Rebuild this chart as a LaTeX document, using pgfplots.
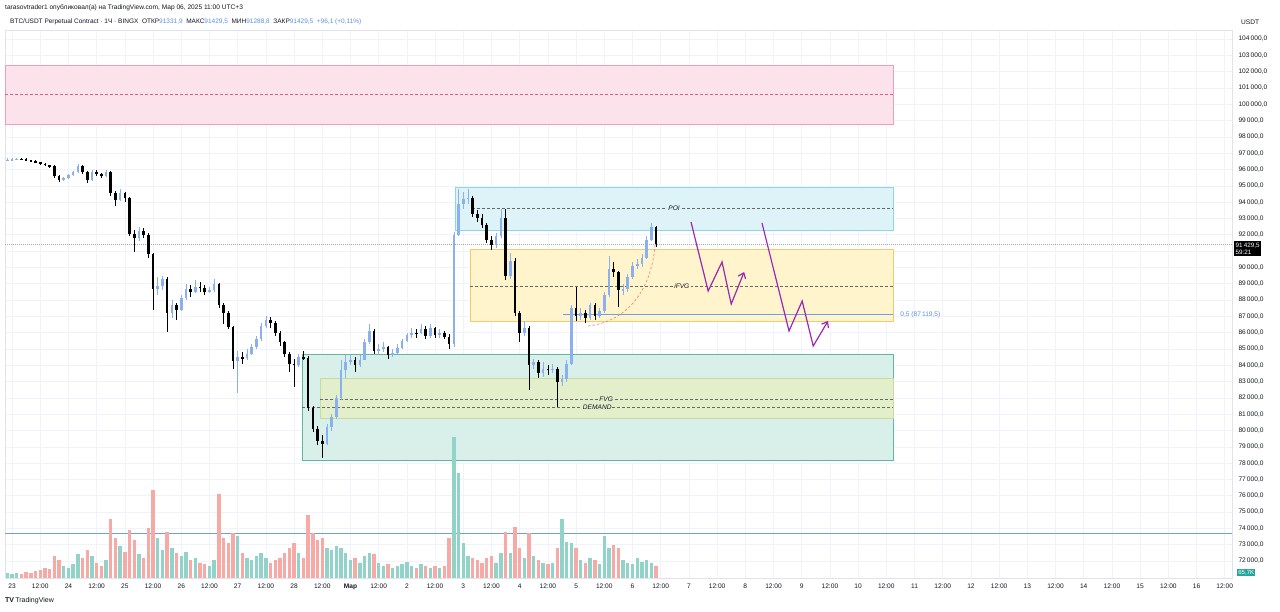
\documentclass[border=0pt]{standalone}
\usepackage{pgfplots}
\pgfplotsset{compat=1.18}
\usepackage{pgfplotstable}
\usepackage{fontspec}
\setmainfont{Liberation Sans}
\usetikzlibrary{arrows.meta}

\definecolor{txt}{HTML}{131722}
\definecolor{gridc}{HTML}{F0F3FA}
\definecolor{linec}{HTML}{E0E3EB}
\definecolor{upc}{HTML}{8AB0F0}
\definecolor{valc}{HTML}{5B8FEA}
\definecolor{volup}{HTML}{92D3C9}
\definecolor{voldn}{HTML}{F7A9A5}
\definecolor{pinkF}{HTML}{FCE2EA}
\definecolor{pinkD}{HTML}{F0A0B4}
\definecolor{poiF}{HTML}{DDF3F8}
\definecolor{poiD}{HTML}{8ED6E4}
\definecolor{yelF}{HTML}{FFF4CC}
\definecolor{yelD}{HTML}{F4CA6E}
\definecolor{demF}{HTML}{D9F0EA}
\definecolor{demD}{HTML}{5DB8A0}
\definecolor{fvgF}{HTML}{E3EECA}
\definecolor{fvgD}{HTML}{C6DB9C}
\definecolor{halfc}{HTML}{6D9EEB}
\definecolor{arrc}{HTML}{9C27B0}
\definecolor{curvc}{HTML}{F08A62}
\definecolor{tagteal}{HTML}{26A69A}

% 2h candles: T = hours since 23 Feb 00:00, v = volume (scaled)
\pgfplotstableread{
T o h l c v
-2 96550 96700 96500 96600 5
0 96600 96700 96520 96610 4
2 96610 96720 96560 96640 5
4 96640 96700 96560 96630 4
6 96630 96680 96500 96560 6
8 96560 96600 96450 96510 5
10 96510 96560 96380 96430 7
12 96430 96480 96300 96350 8
14 96350 96420 96200 96270 10
16 96270 96300 96100 96190 9
18 96190 96250 95500 95600 22
20 95600 95650 95250 95370 18
22 95370 95550 95300 95480 12
24 95480 95700 95420 95650 10
26 95650 95900 95600 95850 14
28 95850 96350 95800 96200 24
30 96200 96250 95750 95830 20
32 95830 95900 95150 95350 28
34 95350 95950 95300 95850 22
36 95850 95950 95600 95700 15
38 95700 95800 95500 95620 12
40 95620 96000 95550 95850 18
42 95850 95900 94400 94550 59
44 94550 94700 93750 94150 40
46 94150 94800 94050 94560 32
48 94560 94650 94000 94250 26
50 94250 94300 91900 92050 48
52 92050 92300 90950 91800 38
54 91800 92500 91600 92250 24
56 92250 92400 91800 91990 20
58 91990 92100 90600 90800 50
60 90800 90900 87400 88700 88
62 88700 89400 88300 88850 40
64 88850 89500 88600 89300 28
66 89300 89400 86040 87200 46
68 87200 88000 86900 87690 30
70 87690 87800 86800 87400 25
72 87400 88300 87300 88100 22
74 88100 89000 88000 88700 26
76 88700 88900 88200 88480 18
78 88480 89200 88400 88800 20
80 88800 89100 88500 88750 15
82 88750 88900 88300 88490 14
84 88490 88800 88400 88610 12
86 88610 89300 88500 89000 18
88 89000 89050 87500 87700 84
90 87700 87800 86500 87200 40
92 87200 87300 86200 86350 35
94 86350 86400 83800 84250 45
96 84250 84900 82300 84500 42
98 84500 84800 84100 84430 25
100 84430 85000 84300 84700 20
102 84700 85300 84600 85120 18
104 85120 85800 85000 85600 22
106 85600 86600 85500 86400 25
108 86400 87000 86300 86800 20
110 86800 86950 86300 86600 15
112 86600 86700 85800 86000 18
114 86000 86100 85200 85400 20
116 85400 85500 84500 84700 25
118 84700 84800 83600 84100 30
120 84100 84400 82670 84000 35
122 84000 84700 83900 84500 25
124 84500 84900 84300 84450 20
126 84450 84550 81200 81400 63
128 81400 81500 79900 80100 45
130 80100 80300 79100 79350 38
132 79350 79700 78310 79200 40
134 79200 80400 79100 80200 30
136 80200 81000 80000 80800 28
138 80800 82200 80700 82000 32
140 82000 84300 81900 83700 30
142 83700 84600 83200 84200 25
144 84200 84700 84000 84300 18
146 84300 84500 83600 84000 20
148 84000 84600 83900 84350 15
150 84350 85600 84300 85400 22
152 85400 86500 85300 86100 25
154 86100 86200 84700 84850 24
156 84850 85300 84600 84990 15
158 84990 85400 84800 85100 12
160 85100 85200 84400 84650 14
162 84650 85000 84500 84780 10
164 84780 85300 84700 85080 12
166 85080 85600 85000 85480 14
168 85480 86000 85400 85850 16
170 85850 86300 85700 86000 12
172 86000 86200 85700 85950 10
174 85950 86500 85900 86200 14
176 86200 86400 85600 85800 12
178 85800 86500 85700 86270 10
180 86270 86350 85700 85850 12
182 85850 86200 85700 85980 10
184 85980 86100 85600 85760 12
186 85760 85900 85000 85300 40
188 85300 92200 85100 92000 141
190 92000 94800 91900 93900 105
192 93900 94600 93600 94200 35
194 94200 94800 93900 94250 22
196 94250 94350 93100 93250 20
198 93250 93500 92800 93050 18
200 93050 93300 92400 92600 15
202 92600 92700 91500 91680 20
204 91680 91900 91070 91350 22
206 91350 92100 91200 91900 15
208 91900 93600 91800 93000 25
210 93000 93600 89200 89500 46
212 89500 90900 89300 90400 25
214 90400 90600 87000 87200 51
216 87200 87300 85400 86000 30
218 86000 86700 85800 86300 20
220 86300 86400 82480 84000 45
222 84000 84400 83800 84200 22
224 84200 84300 83200 83500 18
226 83500 84200 83300 83800 15
228 83800 84000 83400 83700 14
230 83700 84100 83500 83800 15
232 83800 83900 81440 83000 30
234 83000 83400 82700 83150 59
236 83150 84300 83000 84100 36
238 84100 87700 84000 87500 35
240 87500 88800 86700 87000 30
242 87000 87500 86800 87200 18
244 87200 87400 86600 86900 15
246 86900 87800 86800 87690 20
248 87690 87800 86800 87000 18
250 87000 87500 86900 87350 14
252 87350 88500 87200 88300 42
254 88300 90700 88200 89900 30
256 89900 90300 89400 89700 33
258 89700 89800 87570 88600 30
260 88600 89000 88300 88650 18
262 88650 89600 88500 89400 15
264 89400 90300 89300 90100 14
266 90100 90500 89900 90200 20
268 90200 90800 90000 90600 16
270 90600 91900 90500 91700 18
272 91700 92720 91600 92500 15
274 92500 92550 91280 91430 12
}\candles

\pgfplotsset{
  ebar/.style 2 args={draw=none, mark=none, forget plot,
    error bars/y dir=both, error bars/y explicit, error bars/error mark=none,
    error bars/error bar style={line width=#1, draw=#2, solid}},
}

\begin{document}
\begin{tikzpicture}[x=1pt,y=1pt]
\useasboundingbox (0,0) rectangle (1280,611);
\fill[white] (0,0) rectangle (1280,611);
\begin{axis}[
  at={(5pt,33pt)}, anchor=south west,
  scale only axis, width=1227pt, height=548pt,
  xmin=-3, xmax=519.1, ymin=70958, ymax=104552,
  axis line style={draw=linec},
  major tick length=0pt,
  grid=major, grid style={draw=gridc, line width=0.6pt},
  xtick={0,12,...,516},
  xticklabels={23,12:00,24,12:00,25,12:00,26,12:00,27,12:00,28,12:00,{\textbf{Мар}},12:00,2,12:00,3,12:00,4,12:00,5,12:00,6,12:00,7,12:00,8,12:00,9,12:00,10,12:00,11,12:00,12,12:00,13,12:00,14,12:00,15,12:00,16,12:00},
  ytick={72000,73000,74000,75000,76000,77000,78000,79000,80000,81000,82000,83000,84000,85000,86000,87000,88000,89000,90000,92000,93000,94000,95000,96000,97000,98000,99000,100000,101000,102000,103000,104000},
  extra y ticks={91000}, extra y tick labels={},
  yticklabel pos=right,
  scaled y ticks=false,
  tick label style={font=\fontsize{6.6}{7}\selectfont, text=txt},
  xticklabel style={yshift=-2.5pt},
  yticklabel style={anchor=west, xshift=3pt,
    /pgf/number format/.cd, fixed, fixed zerofill, precision=1, use comma, 1000 sep={\,}, assume math mode=true},
  clip=true,
]
% zones
\draw[fill=pinkF, draw=pinkD, line width=0.7pt] (axis cs:-3,102406) rectangle (axis cs:374.9,98788);
\draw[draw=pinkD!60!purple, dash pattern=on 3pt off 2pt, line width=0.5pt] (axis cs:-3,100628) -- (axis cs:374.9,100628);
\draw[fill=poiF, draw=poiD, line width=0.7pt] (axis cs:188.5,94927) rectangle (axis cs:374.9,92291);
\draw[fill=yelF, draw=yelD, line width=0.7pt] (axis cs:194.9,91126) rectangle (axis cs:374.9,86713);
\draw[fill=demF, draw=demD, line width=0.8pt] (axis cs:123.4,84690) rectangle (axis cs:374.9,78192);
\draw[fill=fvgF, draw=fvgD, line width=0.7pt] (axis cs:131,83218) rectangle (axis cs:374.9,80766);
\draw[gray!80!black, dash pattern=on 3pt off 2pt, line width=0.5pt] (axis cs:195.7,93640) -- (axis cs:374.9,93640);
\draw[gray!80!black, dash pattern=on 3pt off 2pt, line width=0.5pt] (axis cs:194.9,88858) -- (axis cs:374.9,88858);
\draw[gray!80!black, dash pattern=on 3pt off 2pt, line width=0.5pt] (axis cs:131,81931) -- (axis cs:374.9,81931);
\draw[gray!80!black, dash pattern=on 3pt off 2pt, line width=0.5pt] (axis cs:123.4,81441) -- (axis cs:374.9,81441);
\node[font=\fontsize{6.6}{7}\selectfont\itshape, text=txt, fill=poiF, inner sep=1.2pt] at (axis cs:281.7,93640) {POI};
\node[font=\fontsize{6.6}{7}\selectfont\itshape, text=txt, fill=yelF, inner sep=1.2pt] at (axis cs:285,88858) {iFVG};
\node[font=\fontsize{6.6}{7}\selectfont\itshape, text=txt, fill=fvgF, inner sep=0.8pt] at (axis cs:252.8,81931) {FVG};
\node[font=\fontsize{6.6}{7}\selectfont\itshape, text=txt, fill=fvgF, inner sep=0.8pt] at (axis cs:249,81441) {DEMAND};
% 0.5 level
\addplot[halfc, line width=1pt] coordinates {(234.5,87119.5) (374.9,87119.5)};
\node[anchor=west, font=\fontsize{6.6}{7}\selectfont, text=valc] at (axis cs:376.5,87119.5) {0,5 (87\,119,5)};
% current price and low line
\addplot[gray!70, dash pattern=on 1pt off 1pt, line width=0.6pt] coordinates {(-3,91429.5) (519.1,91429.5)};
\addplot[halfc, line width=0.9pt] coordinates {(-3,73712) (519.1,73712)};
% volume
\addplot[ebar={3.4pt}{volup}]
  table[x=T, y expr={\thisrow{c}>=\thisrow{o} ? 70958+\thisrow{v}*30.65 : nan}, y error expr={\thisrow{v}*30.65}] {\candles};
\addplot[ebar={3.4pt}{voldn}]
  table[x=T, y expr={\thisrow{c}<\thisrow{o} ? 70958+\thisrow{v}*30.65 : nan}, y error expr={\thisrow{v}*30.65}] {\candles};
% candles: wicks
\addplot[ebar={0.7pt}{upc}]
  table[x=T, y expr={\thisrow{c}>=\thisrow{o} ? (\thisrow{h}+\thisrow{l})/2 : nan}, y error expr={(\thisrow{h}-\thisrow{l})/2}] {\candles};
\addplot[ebar={0.7pt}{black}]
  table[x=T, y expr={\thisrow{c}<\thisrow{o} ? (\thisrow{h}+\thisrow{l})/2 : nan}, y error expr={(\thisrow{h}-\thisrow{l})/2}] {\candles};
% candles: bodies
\addplot[ebar={2.6pt}{upc}]
  table[x=T, y expr={\thisrow{c}>=\thisrow{o} ? (\thisrow{o}+\thisrow{c})/2 : nan}, y error expr={max(abs(\thisrow{c}-\thisrow{o})/2,30)}] {\candles};
\addplot[ebar={2.6pt}{black}]
  table[x=T, y expr={\thisrow{c}<\thisrow{o} ? (\thisrow{o}+\thisrow{c})/2 : nan}, y error expr={max(abs(\thisrow{c}-\thisrow{o})/2,30)}] {\candles};
% curve and projected paths
\draw[curvc, dash pattern=on 2.5pt off 2pt, line width=0.7pt] (axis cs:245.1,86406) .. controls (axis cs:262,86700) and (axis cs:272,88600) .. (axis cs:273.6,91371);
\addplot[arrc, line width=1.2pt, -{Straight Barb[length=5pt,width=8pt]}] coordinates {(288.9,92782) (296.2,88552) (302.1,90330) (306,87755) (311.5,89716)};
\addplot[arrc, line width=1.2pt, -{Straight Barb[length=5pt,width=8pt]}] coordinates {(319.1,92720) (330.6,86100) (336.2,87939) (340.9,85180) (347.2,86713)};
\end{axis}
% header
\node[anchor=west, font=\fontsize{6.6}{7}\selectfont, text=txt, inner sep=0pt] at (5,603) {tarasovtrader1 опубликовал(а) на TradingView.com, Мар 06, 2025 11:00 UTC+3};
\node[anchor=west, font=\fontsize{6.5}{7}\selectfont, text=txt, inner sep=0pt] at (10,589) {BTC/USDT Perpetual Contract · 1Ч · BINGX\ \ ОТКР\textcolor{valc}{91331,9}\ \ МАКС\textcolor{valc}{91429,5}\ \ МИН\textcolor{valc}{91288,8}\ \ ЗАКР\textcolor{valc}{91429,5}\ \ \textcolor{valc}{+96,1 (+0,11\%)}};
\node[anchor=west, font=\fontsize{6.6}{7}\selectfont, text=txt, inner sep=0pt] at (1241,589) {USDT};
% price and volume tags
\node[anchor=west, fill=black, text=white, font=\fontsize{6.3}{6.8}\selectfont, inner sep=1.5pt, align=left] at (1234,362.5) {91\,429,5\\59:21};
\node[anchor=west, fill=tagteal, text=white, font=\fontsize{6}{6.5}\selectfont, inner sep=1.2pt] at (1237,38.5) {65,7K};
% logo
\node[anchor=west, font=\fontsize{7}{8}\selectfont, text=txt, inner sep=0pt] at (5,10) {\textbf{TV}\,TradingView};
\end{tikzpicture}
\end{document}
